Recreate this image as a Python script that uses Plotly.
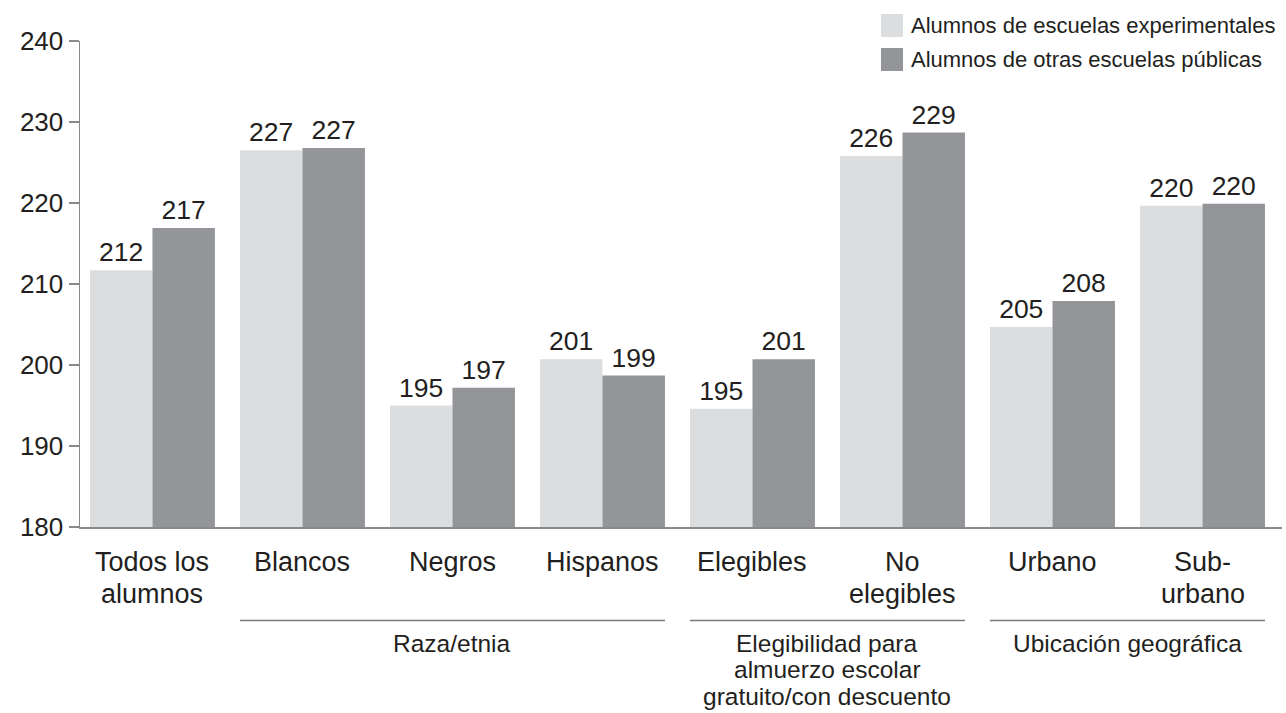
import plotly.graph_objects as go

# ---------------- data ----------------
categories = [["Todos los", "alumnos"], ["Blancos"], ["Negros"], ["Hispanos"],
              ["Elegibles"], ["No", "elegibles"], ["Urbano"], ["Sub-", "urbano"]]
series_names = ["Alumnos de escuelas experimentales",
                "Alumnos de otras escuelas públicas"]
experimental = [211.7, 226.5, 195.0, 200.7, 194.6, 225.8, 204.7, 219.65]
otras = [216.9, 226.8, 197.2, 198.7, 200.7, 228.7, 207.9, 219.9]
exp_labels = [212, 227, 195, 201, 195, 226, 205, 220]
otras_labels = [217, 227, 197, 199, 201, 229, 208, 220]
groups = [(["Raza/etnia"], 1, 3),
          (["Elegibilidad para", "almuerzo escolar", "gratuito/con descuento"], 4, 5),
          (["Ubicación geográfica"], 6, 7)]
y_ticks = [180, 190, 200, 210, 220, 230, 240]

# ---------------- style ----------------
W, H = 1286, 713
L, R, T, B = 80, 4, 41, 186
PW, PH = W - L - R, H - T - B
LIGHT, DARK = "#dcdddf", "#939598"
TXT = "#231f20"
AXC = "#8a8a8a"
FONT = "Liberation Sans, Arial, sans-serif"
FS_CAT = 27
FS_GRP = 24.5
FS_VAL = 26.5
FS_TICK = 26

def px_x(px):
    return (px - L) / PW

def px_y(py):
    return (H - B - py) / PH

xs = list(range(len(categories)))
bargap = 0.167
half = (1 - bargap) / 2

fig = go.Figure()
fig.add_trace(go.Bar(x=xs, y=experimental, name=series_names[0],
                     marker=dict(color=LIGHT, line=dict(width=0)),
                     text=[str(v) for v in exp_labels], textposition="outside",
                     textfont=dict(size=FS_VAL, color=TXT, family=FONT),
                     cliponaxis=False, showlegend=False, hoverinfo="skip"))
fig.add_trace(go.Bar(x=xs, y=otras, name=series_names[1],
                     marker=dict(color=DARK, line=dict(width=0)),
                     text=[str(v) for v in otras_labels], textposition="outside",
                     textfont=dict(size=FS_VAL, color=TXT, family=FONT),
                     cliponaxis=False, showlegend=False, hoverinfo="skip"))

shapes = []
annotations = []

# category labels (line by line)
cat_centers = [562, 594]
for i, lines in enumerate(categories):
    for k, line in enumerate(lines):
        annotations.append(dict(x=i, xref="x", y=px_y(cat_centers[k]), yref="paper",
                                text=line, showarrow=False, xanchor="center",
                                yanchor="middle",
                                font=dict(size=FS_CAT, color=TXT, family=FONT)))

# group separators and labels
grp_centers = [643, 669.5, 696]
for lines, a, b in groups:
    shapes.append(dict(type="line", xref="x", yref="paper",
                       x0=a - half, x1=b + half, y0=px_y(620.5), y1=px_y(620.5),
                       line=dict(color="#7a7a7a", width=1.5)))
    for k, line in enumerate(lines):
        annotations.append(dict(x=(a + b) / 2, xref="x", y=px_y(grp_centers[k]),
                                yref="paper", text=line, showarrow=False,
                                xanchor="center", yanchor="middle",
                                font=dict(size=FS_GRP, color=TXT, family=FONT)))

# manual legend
leg_rows = [(14, 37), (48, 71)]
for (y0, y1), col, name in zip(leg_rows, [LIGHT, DARK], series_names):
    shapes.append(dict(type="rect", xref="paper", yref="paper",
                       x0=px_x(881), x1=px_x(903), y0=px_y(y1), y1=px_y(y0),
                       fillcolor=col, line=dict(width=0)))
    annotations.append(dict(x=px_x(909), xref="paper", y=px_y((y0 + y1) / 2),
                            yref="paper", text=name, showarrow=False,
                            xanchor="left", yanchor="middle",
                            font=dict(size=22, color=TXT, family=FONT)))

fig.update_layout(
    width=W, height=H,
    margin=dict(l=L, r=R, t=T, b=B, pad=0),
    paper_bgcolor="white", plot_bgcolor="white",
    barmode="group", bargap=bargap, bargroupgap=0,
    font=dict(family=FONT, size=FS_TICK, color=TXT),
    shapes=shapes, annotations=annotations,
    hovermode=False,
    xaxis=dict(range=[-0.483, 7.53], tickmode="array", tickvals=xs,
               showticklabels=False, showline=True, linecolor=AXC, linewidth=1.5,
               ticks="", showgrid=False, zeroline=False, fixedrange=True),
    yaxis=dict(range=[180, 240], tickmode="array", tickvals=y_ticks,
               showline=True, linecolor=AXC, linewidth=1.5,
               ticks="outside", ticklen=10, tickcolor=AXC, tickwidth=1.5,
               showgrid=False, zeroline=False, fixedrange=True,
               tickfont=dict(size=FS_TICK, color=TXT, family=FONT)),
)

fig.write_html("out.html",
               config={"displayModeBar": False, "staticPlot": True},
               post_script="document.body.style.margin='0';"
                           "document.body.style.overflow='hidden';")
